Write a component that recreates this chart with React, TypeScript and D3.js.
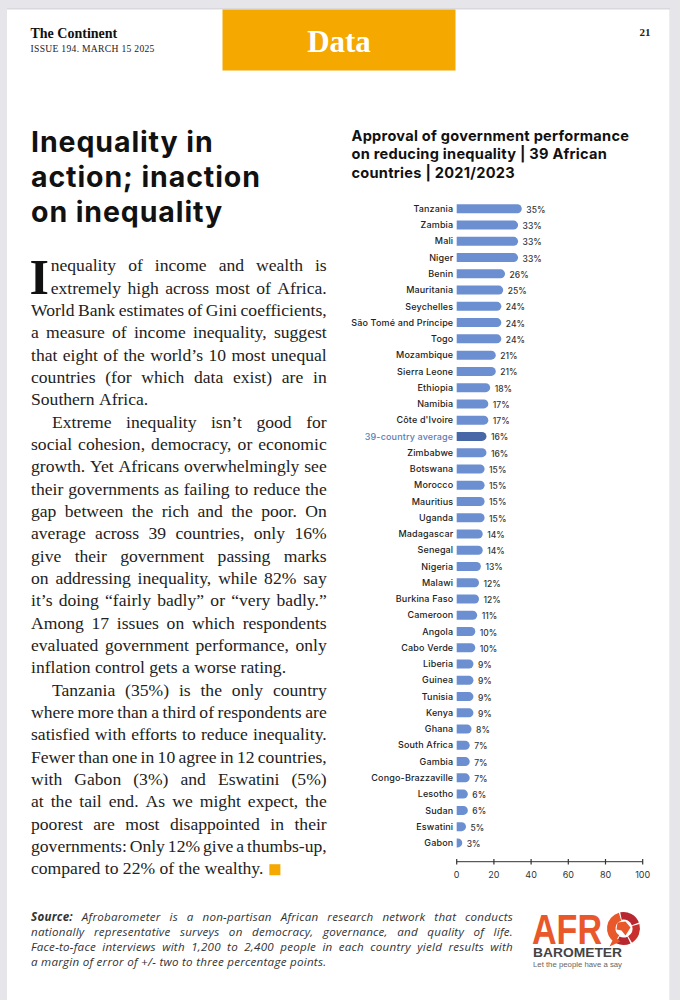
import React from 'react';
import * as d3 from 'd3';

// ---------- DATA ----------
const countries = [
  'Tanzania', 'Zambia', 'Mali', 'Niger', 'Benin', 'Mauritania', 'Seychelles',
  'São Tomé and Príncipe', 'Togo', 'Mozambique', 'Sierra Leone', 'Ethiopia',
  'Namibia', "Côte d'Ivoire", '39-country average', 'Zimbabwe', 'Botswana',
  'Morocco', 'Mauritius', 'Uganda', 'Madagascar', 'Senegal', 'Nigeria', 'Malawi',
  'Burkina Faso', 'Cameroon', 'Angola', 'Cabo Verde', 'Liberia', 'Guinea',
  'Tunisia', 'Kenya', 'Ghana', 'South Africa', 'Gambia', 'Congo-Brazzaville',
  'Lesotho', 'Sudan', 'Eswatini', 'Gabon',
];
const approval = [
  35, 33, 33, 33, 26, 25, 24, 24, 24, 21, 21, 18, 17, 17, 16, 16, 15, 15, 15, 15,
  14, 14, 13, 12, 12, 11, 10, 10, 9, 9, 9, 9, 8, 7, 7, 7, 6, 6, 5, 3,
];
const averageLabel = '39-country average';
const xTicks = [0, 20, 40, 60, 80, 100];

const chartTitleLines = [
  'Approval of government performance',
  'on reducing inequality | 39 African',
  'countries | 2021/2023',
];
const headlineLines = ['Inequality in', 'action; inaction', 'on inequality'];

const dropCap = 'I';
const para1 = [
  'nequality of income and wealth is',
  'extremely high across most of Africa.',
  'World Bank estimates of Gini coefficients,',
  'a measure of income inequality, suggest',
  'that eight of the world’s 10 most unequal',
  'countries (for which data exist) are in',
  'Southern Africa.',
];
const para2 = [
  'Extreme inequality isn’t good for',
  'social cohesion, democracy, or economic',
  'growth. Yet Africans overwhelmingly see',
  'their governments as failing to reduce the',
  'gap between the rich and the poor. On',
  'average across 39 countries, only 16%',
  'give their government passing marks',
  'on addressing inequality, while 82% say',
  'it’s doing “fairly badly” or “very badly.”',
  'Among 17 issues on which respondents',
  'evaluated government performance, only',
  'inflation control gets a worse rating.',
];
const para3 = [
  'Tanzania (35%) is the only country',
  'where more than a third of respondents are',
  'satisfied with efforts to reduce inequality.',
  'Fewer than one in 10 agree in 12 countries,',
  'with Gabon (3%) and Eswatini (5%)',
  'at the tail end. As we might expect, the',
  'poorest are most disappointed in their',
  'governments: Only 12% give a thumbs-up,',
  'compared to 22% of the wealthy.',
];
const sourceLead = 'Source:';
const sourceLines = [
  'Afrobarometer is a non-partisan African research network that conducts',
  'nationally representative surveys on democracy, governance, and quality of life.',
  'Face-to-face interviews with 1,200 to 2,400 people in each country yield results with',
  'a margin of error of +/- two to three percentage points.',
];

// ---------- HELPERS ----------
let ctx: CanvasRenderingContext2D | null = null;
function measure(text: string, font: string, spacing = 0): number {
  if (!ctx) ctx = document.createElement('canvas').getContext('2d');
  if (!ctx) return text.length * 7;
  ctx.font = font;
  return ctx.measureText(text).width + spacing * text.length;
}

type Seg = { t: string; font: string; bold?: boolean };

function JLine({ words, x, y, width, justify, fill, baseStyle, spacing = 0 }: {
  words: Seg[]; x: number; y: number; width: number; justify: boolean; fill: string; baseStyle: any; spacing?: number;
}) {
  const widths = words.map((w) => measure(w.t, w.font, spacing));
  const total = widths.reduce((a, b) => a + b, 0);
  const space = measure(' ', words[0].font, spacing);
  const gap = justify && words.length > 1 ? (width - total) / (words.length - 1) : space;
  let cx = x;
  return (
    <text y={y} fill={fill} style={{ ...baseStyle, letterSpacing: spacing }}>
      {words.map((w, i) => {
        const el = (
          <tspan key={i} x={cx} fontWeight={w.bold ? 700 : undefined}>{w.t}</tspan>
        );
        cx += widths[i] + gap;
        return el;
      })}
    </text>
  );
}

function roundedBar(x0: number, x1: number, yc: number, h: number): string {
  const r = h / 2;
  const w = x1 - x0;
  if (w <= r) {
    const rr = Math.max(w, 0.01);
    return `M${x0},${yc - r} A${rr},${r} 0 0 1 ${x0},${yc + r} Z`;
  }
  return `M${x0},${yc - r} H${x1 - r} A${r},${r} 0 0 1 ${x1 - r},${yc + r} H${x0} Z`;
}

export default function App() {
  const W = 680, H = 1000;

  // chart scales
  const x = d3.scaleLinear().domain([0, 100]).range([456.7, 642.7]);
  const y = d3.scalePoint<string>().domain(countries).range([208.8, 842.9]);
  const barH = 9;
  const barColor = '#6b8fd0';
  const avgColor = '#4767a7';

  // body text
  const bodyFamily = "'Liberation Serif', 'Times New Roman', serif";
  const bodySize = 17.6;
  const bodyFont = `400 ${bodySize}px ${bodyFamily}`;
  const bodyStyle = { fontFamily: bodyFamily, fontSize: bodySize };
  const bodyLeft = 31, bodyRight = 326.7;
  const lineY0 = 271.3, lineStep = 22.33;
  const indent = 21;

  type BL = { text: string; x: number; justify: boolean };
  const bodyAll: BL[] = [];
  para1.forEach((t, i) => bodyAll.push({ text: t, x: i < 2 ? 50.7 : bodyLeft, justify: i < para1.length - 1 }));
  para2.forEach((t, i) => bodyAll.push({ text: t, x: i === 0 ? bodyLeft + indent : bodyLeft, justify: i < para2.length - 1 }));
  para3.forEach((t, i) => bodyAll.push({ text: t, x: i === 0 ? bodyLeft + indent : bodyLeft, justify: i < para3.length - 1 }));
  const lastLine = bodyAll[bodyAll.length - 1];
  const lastY = lineY0 + (bodyAll.length - 1) * lineStep;
  const lastEnd = lastLine.x + measure(lastLine.text, bodyFont);

  // source text
  const srcFamily = "'Open Sans', sans-serif";
  const srcSize = 11.6;
  const srcFont = `italic 400 ${srcSize}px ${srcFamily}`;
  const srcBold = `italic 700 ${srcSize}px ${srcFamily}`;
  const srcStyle = { fontFamily: srcFamily, fontSize: srcSize, fontStyle: 'italic' };
  const srcSpacing = 0.25;

  const sansFamily = "Inter, 'Noto Sans', sans-serif";

  // logo ring
  const ringC = [623.5, 928.5];
  const arc = d3.arc<any>();

  return (
    <div style={{ position: 'absolute', left: 0, top: 0 }}>
      <svg width={W} height={H} viewBox={`0 0 ${W} ${H}`} style={{ display: 'block' }}>
        {/* page frame */}
        <rect x={0} y={0} width={W} height={H} fill="#e6e6ea" />
        <rect x={7} y={8} width={663} height={H} fill="#d8d8dd" />
        <rect x={7} y={9.5} width={662.5} height={H} fill="#ffffff" />

        {/* header */}
        <rect x={222.5} y={9.5} width={233} height={61} fill="#f5a800" />
        <text x={339} y={52} textAnchor="middle" fill="#ffffff"
          style={{ fontFamily: "'Liberation Serif', serif", fontWeight: 700, fontSize: 31 }}>Data</text>
        <text x={30.5} y={38} fill="#111"
          style={{ fontFamily: "'Liberation Serif', serif", fontWeight: 700, fontSize: 14 }}>The Continent</text>
        <text x={30.5} y={51.5} fill="#222"
          style={{ fontFamily: "'Liberation Serif', serif", fontWeight: 400, fontSize: 9.6, letterSpacing: 0.3 }}>ISSUE 194. MARCH 15 2025</text>
        <text x={645} y={36} textAnchor="middle" fill="#222"
          style={{ fontFamily: "'Liberation Serif', serif", fontWeight: 700, fontSize: 11 }}>21</text>

        {/* headline */}
        {headlineLines.map((t, i) => (
          <text key={t} x={31} y={152.3 + i * 34.7} fill="#111"
            style={{ fontFamily: sansFamily, fontWeight: 700, fontSize: 28.5, letterSpacing: 0.9 }}>{t}</text>
        ))}

        {/* drop cap */}
        <text x={29.5} y={293.5} fill="#111"
          style={{ fontFamily: "'Liberation Serif', serif", fontWeight: 700, fontSize: 50 }}>{dropCap}</text>

        {/* body */}
        {bodyAll.map((l, i) => (
          <JLine key={i}
            words={l.text.split(' ').map((t) => ({ t, font: bodyFont }))}
            x={l.x} y={lineY0 + i * lineStep} width={bodyRight - l.x}
            justify={l.justify} fill="#222" baseStyle={bodyStyle} />
        ))}
        <rect x={lastEnd + 6} y={lastY - 10} width={11} height={11} fill="#f5a800" />

        {/* chart title */}
        {chartTitleLines.map((t, i) => (
          <text key={t} x={351.5} y={140.7 + i * 18.5} fill="#111"
            style={{ fontFamily: sansFamily, fontWeight: 700, fontSize: 14.6, letterSpacing: 0.25 }}>{t}</text>
        ))}

        {/* bars */}
        {countries.map((c, i) => {
          const yc = y(c) as number;
          const isAvg = c === averageLabel;
          return (
            <g key={c}>
              <text x={453.3} y={yc} dy="0.35em" textAnchor="end" fill={isAvg ? '#5b7db5' : '#222'}
                style={{ fontFamily: sansFamily, fontSize: 9, fontWeight: 500, letterSpacing: 0.15 }}>{c}</text>
              <path d={roundedBar(x(0), x(approval[i]), yc, barH)} fill={isAvg ? avgColor : barColor} />
              <text x={x(approval[i]) + 4.5} y={yc + 1} dy="0.35em" fill="#333"
                style={{ fontFamily: sansFamily, fontSize: 8.5, fontWeight: 500 }}>{approval[i]}%</text>
            </g>
          );
        })}

        {/* axis */}
        <g>
          <line x1={x(0)} x2={x(100)} y1={861.7} y2={861.7} stroke="#333" strokeWidth={1} />
          {xTicks.map((t) => (
            <g key={t}>
              <line x1={x(t)} x2={x(t)} y1={859} y2={864.5} stroke="#333" strokeWidth={1.2} />
              <text x={x(t)} y={875} dy="0.35em" textAnchor="middle" fill="#333"
                style={{ fontFamily: sansFamily, fontSize: 9 }}>{t}</text>
            </g>
          ))}
        </g>

        {/* source */}
        {sourceLines.map((t, i) => {
          const words: Seg[] = t.split(' ').map((w) => ({ t: w, font: srcFont }));
          if (i === 0) words.unshift({ t: sourceLead, font: srcBold, bold: true });
          return (
            <JLine key={i} words={words} x={31} y={921 + i * 15} width={513 - 31}
              justify={i < sourceLines.length - 1} fill="#333" baseStyle={srcStyle} spacing={srcSpacing} />
          );
        })}

        {/* logo */}
        <g>
          <text x={532} y={944} fill="#e8582a" textLength={70} lengthAdjust="spacingAndGlyphs"
            style={{ fontFamily: "'Liberation Sans', Arial, sans-serif", fontWeight: 700, fontSize: 42 }}>AFR</text>
          <path transform={`translate(${ringC[0]},${ringC[1]})`}
            d={arc({ innerRadius: 9, outerRadius: 16.5, startAngle: -0.2, endAngle: 1.2 }) as string} fill="#b8262f" />
          <path transform={`translate(${ringC[0]},${ringC[1]})`}
            d={arc({ innerRadius: 9, outerRadius: 16.5, startAngle: 1.3, endAngle: 2.6 }) as string} fill="#c9302c" />
          <path transform={`translate(${ringC[0]},${ringC[1]})`}
            d={arc({ innerRadius: 9, outerRadius: 16.5, startAngle: 2.7, endAngle: 3.6 }) as string} fill="#b8262f" />
          <path transform={`translate(${ringC[0]},${ringC[1]})`}
            d={arc({ innerRadius: 8, outerRadius: 16.5, startAngle: 3.7, endAngle: 6.0 }) as string} fill="#e8582a" />
          <path d={`M${ringC[0] - 9},${ringC[1] + 8} L${ringC[0] - 14},${ringC[1] + 18} L${ringC[0] - 3},${ringC[1] + 13} Z`} fill="#e8582a" />
          <path d={`M${ringC[0] - 6},${ringC[1] - 6} L${ringC[0] + 2},${ringC[1] - 7} L${ringC[0] + 7},${ringC[1] - 1} L${ringC[0] + 2},${ringC[1] + 7} L${ringC[0] - 2},${ringC[1] + 2} L${ringC[0] - 7},${ringC[1] + 1} Z`} fill="#e8582a" />
          <text x={533} y={957} fill="#444" textLength={89} lengthAdjust="spacingAndGlyphs"
            style={{ fontFamily: "'Liberation Sans', Arial, sans-serif", fontWeight: 700, fontSize: 13 }}>BAROMETER</text>
          <text x={533} y={966.5} fill="#666" textLength={89} lengthAdjust="spacingAndGlyphs"
            style={{ fontFamily: "'Liberation Sans', Arial, sans-serif", fontSize: 6.8 }}>Let the people have a say</text>
        </g>
      </svg>
    </div>
  );
}
